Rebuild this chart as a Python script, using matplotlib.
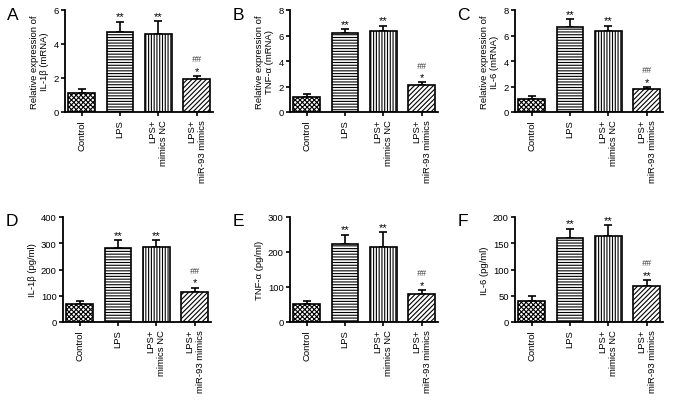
import numpy as np
import matplotlib.pyplot as plt

plt.rcParams['font.family'] = ['Liberation Sans', 'DejaVu Sans']
plt.rcParams['hatch.linewidth'] = 0.8
plt.rcParams['hatch.color'] = '#2a2a2a'

groups = ['Control', 'LPS', 'LPS+\nmimics NC', 'LPS+\nmiR-93 mimics']

# mean, upper error
il1b_mrna = [1.11, 4.69, 4.61, 1.95]
il1b_mrna_err = [0.22, 0.62, 0.72, 0.16]
tnf_mrna = [1.15, 6.22, 6.33, 2.08]
tnf_mrna_err = [0.23, 0.29, 0.44, 0.24]
il6_mrna = [0.99, 6.67, 6.33, 1.77]
il6_mrna_err = [0.23, 0.62, 0.44, 0.18]
il1b_pg = [67, 283, 286, 114]
il1b_pg_err = [13, 29, 25, 16]
tnf_pg = [52, 223, 214, 80]
tnf_pg_err = [7, 26, 43, 11]
il6_pg = [40, 160, 164, 69]
il6_pg_err = [10, 18, 20, 11]

panels = [
    ('A', il1b_mrna, il1b_mrna_err, 6, [0, 2, 4, 6], 'Relative expression of\nIL-1β (mRNA)', '*'),
    ('B', tnf_mrna, tnf_mrna_err, 8, [0, 2, 4, 6, 8], 'Relative expression of\nTNF-α (mRNA)', '*'),
    ('C', il6_mrna, il6_mrna_err, 8, [0, 2, 4, 6, 8], 'Relative expression of\nIL-6 (mRNA)', '*'),
    ('D', il1b_pg, il1b_pg_err, 400, [0, 100, 200, 300, 400], 'IL-1β (pg/ml)', '*'),
    ('E', tnf_pg, tnf_pg_err, 300, [0, 100, 200, 300], 'TNF-α (pg/ml)', '*'),
    ('F', il6_pg, il6_pg_err, 200, [0, 50, 100, 150, 200], 'IL-6 (pg/ml)', '**'),
]

hatches = ['xxxxxxx', '------', '||||||', '///////']
W, H = 677, 410
lefts = [65, 290, 515, 63, 290, 515]
tops = [11, 11, 11, 218, 218, 218]
bottoms = [113, 113, 113, 323, 323, 323]

fig = plt.figure(figsize=(6.77, 4.10), dpi=100)
fs = 6.8
x = np.arange(4)

for i, (letter, vals, errs, ymax, yt, ylab, star) in enumerate(panels):
    l, t, b = lefts[i], tops[i], bottoms[i]
    ax = fig.add_axes([l / W, (H - b) / H, 148 / W, (b - t) / H])
    bars = ax.bar(x, vals, width=0.7, color='white', edgecolor='black',
                  linewidth=1.2, zorder=2)
    for bar, h in zip(bars, hatches):
        bar.set_hatch(h)
    ax.errorbar(x, vals, yerr=[np.zeros(4), errs], fmt='none', ecolor='black',
                elinewidth=1.2, capsize=3, capthick=1.2, zorder=1)
    ax.set_xlim(-0.43, 3.42)
    ax.set_ylim(0, ymax)
    ax.set_yticks(yt)
    ax.set_xticks(x)
    ax.set_xticklabels(groups, rotation=90, fontsize=fs, ma='right')
    ax.tick_params(axis='y', labelsize=fs, width=1.2, length=3, pad=1.5)
    ax.tick_params(axis='x', width=1.2, length=3, pad=2)
    for s in ['top', 'right']:
        ax.spines[s].set_visible(False)
    for s in ['left', 'bottom']:
        ax.spines[s].set_linewidth(1.3)
    ax.set_ylabel(ylab, fontsize=fs, labelpad=3)
    for j in (1, 2):
        ax.annotate('**', (j, vals[j] + errs[j]), xytext=(0, 0.3),
                    textcoords='offset points', ha='center', va='bottom',
                    fontsize=8)
    top3 = vals[3] + errs[3]
    ax.annotate(star, (3, top3), xytext=(0, 0.3), textcoords='offset points',
                ha='center', va='bottom', fontsize=8)
    ax.annotate('##', (3, top3), xytext=(0, 9.2), textcoords='offset points',
                ha='center', va='bottom', fontsize=6.5, style='italic',
                color='#444444')
    ax.text(l / W - 0.085, 1 - (t + 4) / H, letter, transform=fig.transFigure,
            fontsize=12.5, ha='left', va='center')

fig.savefig('out.png', dpi=100)
